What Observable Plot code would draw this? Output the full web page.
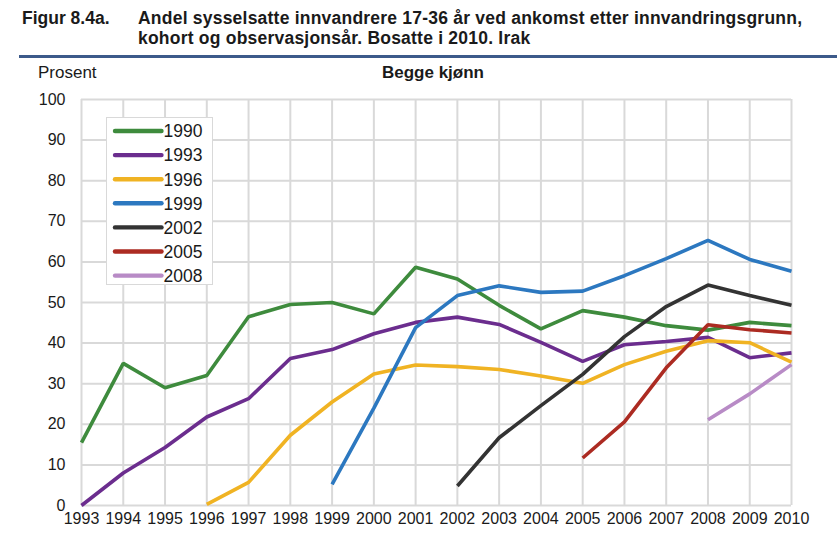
<!DOCTYPE html>
<html>
<head>
<meta charset="utf-8">
<script src="https://cdn.jsdelivr.net/npm/d3@7"></script>
<script src="https://cdn.jsdelivr.net/npm/@observablehq/plot@0.6"></script>
<style>
  html, body { margin: 0; padding: 0; background: #fff; }
  #wrap { position: relative; width: 837px; height: 541px; overflow: hidden; font-family: "Liberation Sans", Arial, sans-serif; color: #1a1a1a; }
  .abs { position: absolute; white-space: nowrap; }
  #fig { left: 22px; top: 9px; font-weight: bold; font-size: 17.5px; line-height: 19.5px; }
  #title { left: 138px; top: 9px; font-weight: bold; font-size: 17.5px; line-height: 19.5px; letter-spacing: 0.22px; }
  #rule { left: 19px; top: 54.5px; width: 818px; height: 3.3px; background: #3c5a8a; }
  #prosent { left: 38px; top: 63px; font-size: 17px; }
  #sub { left: 0; width: 866px; text-align: center; top: 63px; font-size: 17px; font-weight: bold; }
  #chart { left: 0; top: 60px; }
  #legend { left: 106px; top: 117px; width: 107px; height: 168px; background: #fff; border: 1.5px solid #d9d9d9; box-sizing: border-box; }
</style>
</head>
<body>
<div id="wrap">
  <div class="abs" id="fig">Figur 8.4a.</div>
  <div class="abs" id="title">Andel sysselsatte innvandrere 17-36 år ved ankomst etter innvandringsgrunn,<br>kohort og observasjonsår. Bosatte i 2010. Irak</div>
  <div class="abs" id="rule"></div>
  <div class="abs" id="prosent">Prosent</div>
  <div class="abs" id="sub">Begge kjønn</div>
  <div class="abs" id="chart"></div>
  <div class="abs" id="legend"></div>
</div>
<script>
// Years on the x axis
const years = d3.range(1993, 2011);
const yTicks = [0, 10, 20, 30, 40, 50, 60, 70, 80, 90, 100];

// Cohorts (arrival year) and their colours
const cohorts = ["1990", "1993", "1996", "1999", "2002", "2005", "2008"];
const colors = ["#3e8b3d", "#6b2d8e", "#f0b323", "#2c78c0", "#333333", "#ac2b22", "#b88bc6"];

// First observation year of each series
const startYears = [1993, 1993, 1996, 1999, 2002, 2005, 2008];

// Series values (per cent employed), from start year to 2010
const s1990 = [15.5, 35.0, 29.0, 32.0, 46.5, 49.5, 50.0, 47.2, 58.7, 55.8, 49.3, 43.5, 48.0, 46.4, 44.3, 43.2, 45.1, 44.3];
const s1993 = [0.0, 8.0, 14.3, 21.8, 26.3, 36.2, 38.4, 42.3, 45.1, 46.4, 44.6, 40.2, 35.5, 39.6, 40.4, 41.4, 36.4, 37.6];
const s1996 = [0.3, 5.7, 17.3, 25.5, 32.4, 34.6, 34.2, 33.5, 31.9, 30.1, 34.7, 38.0, 40.6, 40.1, 35.3];
const s1999 = [5.2, 24.0, 43.8, 51.7, 54.1, 52.5, 52.8, 56.6, 60.8, 65.3, 60.6, 57.7];
const s2002 = [4.8, 16.7, 24.6, 32.3, 41.6, 49.0, 54.3, 51.7, 49.3];
const s2005 = [11.7, 20.6, 33.9, 44.5, 43.3, 42.5];
const s2008 = [21.1, 27.5, 34.7];

const seriesList = [s1990, s1993, s1996, s1999, s2002, s2005, s2008];

const data = [];
seriesList.forEach((vals, i) => {
  vals.forEach((v, j) => data.push({cohort: cohorts[i], year: startYears[i] + j, value: v}));
});

const gridColor = "#d9d9d9";

const chart = Plot.plot({
  width: 837,
  height: 481,
  marginLeft: 81,
  marginRight: 46,
  marginTop: 39,
  marginBottom: 36,
  style: {fontFamily: "'Liberation Sans', Arial, sans-serif", fontSize: "16px", color: "#1a1a1a", background: "transparent"},
  x: {type: "linear", domain: [1993, 2010]},
  y: {domain: [0, 100]},
  color: {domain: cohorts, range: colors},
  marks: [
    Plot.gridX(years, {stroke: gridColor, strokeOpacity: 1, strokeWidth: 2}),
    Plot.gridY(yTicks, {stroke: gridColor, strokeOpacity: 1, strokeWidth: 2}),
    Plot.axisX(years, {tickSize: 0, tickPadding: 7, tickFormat: d => String(d), label: null, fontSize: 16}),
    Plot.axisY(yTicks, {tickSize: 0, tickPadding: 16, label: null, fontSize: 16}),
    Plot.line(data, {x: "year", y: "value", z: "cohort", stroke: "cohort", strokeWidth: 3.6, strokeLinejoin: "miter", strokeLinecap: "butt"})
  ]
});
document.getElementById("chart").appendChild(chart);

// Legend
const leg = d3.select("#legend").append("svg").attr("width", 107).attr("height", 168)
  .style("font-family", "'Liberation Sans', Arial, sans-serif").style("font-size", "17.5px");
cohorts.forEach((c, i) => {
  const y = 13 + i * 24.1;
  leg.append("line").attr("x1", 8).attr("x2", 54.5).attr("y1", y).attr("y2", y)
    .attr("stroke", colors[i]).attr("stroke-width", 4.4).attr("stroke-linecap", "round");
  leg.append("text").attr("x", 56.5).attr("y", y).attr("dy", "0.36em").attr("fill", "#1a1a1a").text(c);
});
</script>
</body>
</html>
